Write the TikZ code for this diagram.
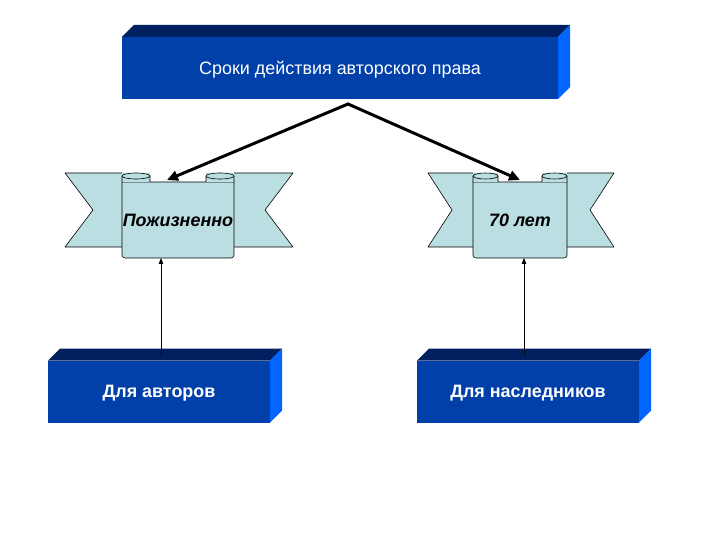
\documentclass[tikz,border=0pt]{standalone}
\usepackage{fontspec}
\setmainfont{Liberation Sans}
\usetikzlibrary{positioning, arrows.meta, calc}

\definecolor{boxfront}{RGB}{0,64,168}
\definecolor{boxtop}{RGB}{0,32,96}
\definecolor{boxside}{RGB}{0,102,255}
\definecolor{ribbonfill}{RGB}{187,222,227}

\begin{document}
\begin{tikzpicture}[
        x=1bp, y=-1bp,
        font=\fontsize{18}{21}\selectfont,
        % Styles
        frontface/.style={% For the front of the blue blocks
            rectangle,
            fill=boxfront,
            text=white,
            inner sep=0pt,
            outer sep=0pt,
            text depth=0pt,
            minimum height=62bp,
            },
        topface/.style={% For the dark top of the blocks
            fill=boxtop,
            },
        sideface/.style={% For the bright side of the blocks
            fill=boxside,
            },
        ribbon/.style={% For the scroll banners
            fill=ribbonfill,
            draw=black,
            line width=0.6pt,
            line join=round,
            },
        wingline/.style={% Outline of the banner wings
            draw=black,
            line width=0.6pt,
            line join=round,
            },
        scrolltext/.style={% Text on the scrolls
            inner sep=0pt,
            outer sep=0pt,
            minimum height=76bp,
            font=\fontsize{18}{21}\selectfont\bfseries\itshape,
            },
        ArrowBig/.style={% Thick arrows from the title
            line width=3pt,
            line join=miter,
            {Triangle[length=11pt,width=10pt]}-{Triangle[length=11pt,width=10pt]},
            },
        ArrowSmall/.style={% Thin arrows from the blocks
            line width=0.8pt,
            -{Triangle[length=6pt,width=4.5pt]},
            },
        ]
    \useasboundingbox (0,0) rectangle (720,540);

    % Left banner
        \fill[ribbonfill] (150,173) -- (65,173) -- (93,210) -- (65,247) -- (150,247) -- cycle;
        \draw[wingline] (122,173) -- (65,173) -- (93,210) -- (65,247) -- (122,247);
        \fill[ribbonfill] (206,173) -- (293,173) -- (265,210) -- (293,247) -- (206,247) -- cycle;
        \draw[wingline] (234,173) -- (293,173) -- (265,210) -- (293,247) -- (234,247);
        \draw[ribbon] (122,182) {[rounded corners=3bp] -- (122,258) -- (234,258)} -- (234,182) -- cycle;
        \draw[ribbon] (122,182) -- (122,176) arc[start angle=180, end angle=0, x radius=14bp, y radius=3bp] -- (150,182);
        \draw[wingline] (122,176) arc[start angle=180, end angle=360, x radius=14bp, y radius=3bp];
        \draw[ribbon] (206,182) -- (206,176) arc[start angle=180, end angle=0, x radius=14bp, y radius=3bp] -- (234,182);
        \draw[wingline] (206,176) arc[start angle=180, end angle=360, x radius=14bp, y radius=3bp];
        \node[scrolltext, minimum width=112bp] (life) at (178,220) {Пожизненно};

    % Right banner
        \fill[ribbonfill] (498,173) -- (428,173) -- (452,210) -- (428,247) -- (498,247) -- cycle;
        \draw[wingline] (473,173) -- (428,173) -- (452,210) -- (428,247) -- (473,247);
        \fill[ribbonfill] (542,173) -- (614,173) -- (590,210) -- (614,247) -- (542,247) -- cycle;
        \draw[wingline] (567,173) -- (614,173) -- (590,210) -- (614,247) -- (567,247);
        \draw[ribbon] (473,182) {[rounded corners=3bp] -- (473,258) -- (567,258)} -- (567,182) -- cycle;
        \draw[ribbon] (473,182) -- (473,176) arc[start angle=180, end angle=0, x radius=12.5bp, y radius=3bp] -- (498,182);
        \draw[wingline] (473,176) arc[start angle=180, end angle=360, x radius=12.5bp, y radius=3bp];
        \draw[ribbon] (542,182) -- (542,176) arc[start angle=180, end angle=0, x radius=12.5bp, y radius=3bp] -- (567,182);
        \draw[wingline] (542,176) arc[start angle=180, end angle=360, x radius=12.5bp, y radius=3bp];
        \node[scrolltext, minimum width=94bp] (years) at (520,220) {70 лет};

    % Blocks
        \node[frontface, minimum width=436bp] (rights) at (340,68) {Сроки действия авторского права};
        \node[frontface, minimum width=222bp, font=\fontsize{18}{21}\selectfont\bfseries] (authors) at (159,391.5) {Для авторов};
        \node[frontface, minimum width=222bp, font=\fontsize{18}{21}\selectfont\bfseries] (heirs) at (528,391.5) {Для наследников};

        % 3D faces of the blocks
        \fill[topface] (rights.north west) -- ++(12,-12) -- ($(rights.north east)+(12,-12)$) -- (rights.north east) -- cycle;
        \fill[sideface] (rights.north east) -- ++(12,-12) -- ($(rights.south east)+(12,-12)$) -- (rights.south east) -- cycle;
        \fill[topface] (authors.north west) -- ++(12,-12) -- ($(authors.north east)+(12,-12)$) -- (authors.north east) -- cycle;
        \fill[sideface] (authors.north east) -- ++(12,-12) -- ($(authors.south east)+(12,-12)$) -- (authors.south east) -- cycle;
        \fill[topface] (heirs.north west) -- ++(12,-12) -- ($(heirs.north east)+(12,-12)$) -- (heirs.north east) -- cycle;
        \fill[sideface] (heirs.north east) -- ++(12,-12) -- ($(heirs.south east)+(12,-12)$) -- (heirs.south east) -- cycle;

    % Arrows
        \coordinate (apex) at (348,104);
        \draw[ArrowBig] ([shift={(-11,-2)}]life.north) -- (apex) -- ([yshift=2bp]years.north);
        \draw[ArrowSmall] ([shift={(2,-6)}]authors.north) coordinate (up1) -- (up1 |- life.south);
        \draw[ArrowSmall] ([shift={(-4,-6)}]heirs.north) coordinate (up2) -- (up2 |- years.south);

\end{tikzpicture}
\end{document}
